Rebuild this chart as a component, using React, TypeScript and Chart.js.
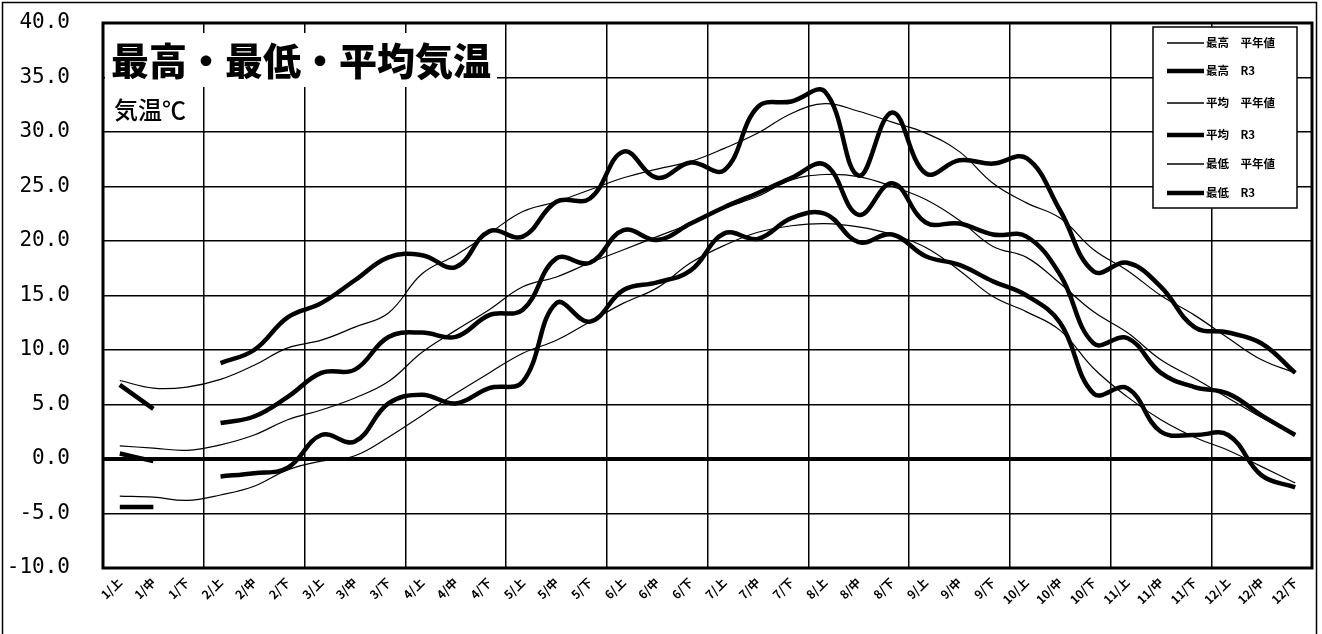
import React, { useEffect, useRef } from 'react';
import { Chart, registerables } from 'chart.js';

Chart.register(...registerables);

const categories = [
  '1/上', '1/中', '1/下', '2/上', '2/中', '2/下', '3/上', '3/中', '3/下',
  '4/上', '4/中', '4/下', '5/上', '5/中', '5/下', '6/上', '6/中', '6/下',
  '7/上', '7/中', '7/下', '8/上', '8/中', '8/下', '9/上', '9/中', '9/下',
  '10/上', '10/中', '10/下', '11/上', '11/中', '11/下', '12/上', '12/中', '12/下',
];

const yTicks = [-10, -5, 0, 5, 10, 15, 20, 25, 30, 35, 40];

const maxNormal = [7.2, 6.5, 6.6, 7.3, 8.6, 10.2, 10.9, 12.1, 13.4, 17.0, 18.7, 20.7, 22.7, 23.6, 24.7, 25.8, 26.6, 27.3, 28.5, 29.9, 31.7, 32.6, 31.9, 30.9, 29.9, 28.2, 25.3, 23.5, 22.1, 19.2, 17.3, 15.0, 13.2, 11.1, 9.1, 7.9];
const maxR3 = [6.8, 4.6, null, 8.8, 10.0, 13.0, 14.3, 16.4, 18.5, 18.7, 17.6, 20.9, 20.4, 23.6, 23.9, 28.2, 25.8, 27.2, 26.5, 32.3, 32.8, 33.7, 26.0, 31.8, 26.2, 27.4, 27.1, 27.6, 22.8, 17.2, 18.0, 15.8, 12.1, 11.6, 10.6, 7.9];
const avgNormal = [1.2, 1.0, 0.8, 1.3, 2.2, 3.6, 4.5, 5.6, 7.1, 9.8, 11.8, 13.7, 15.8, 16.7, 18.0, 19.2, 20.4, 21.6, 23.0, 24.1, 25.6, 26.1, 25.9, 25.0, 23.8, 21.9, 19.5, 18.5, 16.1, 13.5, 11.6, 9.1, 7.4, 5.6, 3.8, 2.2];
const avgR3 = [0.5, -0.2, null, 3.3, 3.9, 5.7, 7.9, 8.2, 11.2, 11.6, 11.2, 13.2, 13.7, 18.4, 18.0, 21.0, 20.1, 21.6, 23.1, 24.4, 25.8, 27.0, 22.4, 25.3, 21.7, 21.6, 20.6, 20.4, 16.9, 10.6, 11.1, 7.9, 6.6, 6.0, 4.0, 2.2];
const minNormal = [-3.4, -3.5, -3.8, -3.3, -2.5, -1.0, -0.2, 0.3, 2.0, 4.0, 6.0, 7.9, 9.7, 10.9, 12.6, 14.3, 15.7, 18.0, 19.6, 20.8, 21.4, 21.6, 21.3, 20.6, 19.4, 17.3, 14.9, 13.5, 11.8, 8.3, 5.7, 3.6, 2.0, 0.8, -0.7, -2.2];
const minR3 = [-4.4, -4.4, null, -1.6, -1.3, -0.8, 2.2, 1.6, 5.1, 5.9, 5.1, 6.5, 7.1, 14.3, 12.6, 15.5, 16.2, 17.3, 20.7, 20.2, 22.1, 22.5, 19.9, 20.6, 18.6, 17.8, 16.3, 15.0, 12.5, 6.0, 6.5, 2.5, 2.2, 2.2, -1.5, -2.6];

const seriesLabels = ['最高　平年値', '最高　R3', '平均　平年値', '平均　R3', '最低　平年値', '最低　R3'];
const titleText = '最高・最低・平均気温';
const unitText = '気温℃';

const JP = '"Noto Sans CJK JP", "Noto Sans", sans-serif';

const decorPlugin = {
  id: 'decor',
  beforeDraw(chart: any) {
    const { ctx, width, height } = chart;
    ctx.save();
    ctx.fillStyle = '#fff';
    ctx.fillRect(0, 0, width, height);
    ctx.strokeStyle = '#000';
    ctx.lineWidth = 1.5;
    ctx.beginPath();
    ctx.moveTo(2.5, height);
    ctx.lineTo(2.5, 2.5);
    ctx.lineTo(width - 5.5, 2.5);
    ctx.lineTo(width - 5.5, height);
    ctx.stroke();
    ctx.restore();
  },
  beforeDatasetsDraw(chart: any) {
    const { ctx, chartArea } = chart;
    const { left, top, right, bottom } = chartArea;
    ctx.save();
    // title box
    ctx.fillStyle = '#fff';
    ctx.fillRect(left + 2, top + 10, 392, 54);
    ctx.fillStyle = '#000';
    ctx.font = `900 38px ${JP}`;
    ctx.textBaseline = 'middle';
    ctx.textAlign = 'left';
    ctx.fillText(titleText, left + 8, top + 38);
    ctx.font = `500 24px ${JP}`;
    ctx.fillText(unitText, left + 11, top + 87);
    // plot frame
    ctx.strokeStyle = '#000';
    ctx.lineWidth = 3;
    ctx.strokeRect(left, top, right - left, bottom - top);
    ctx.restore();
  },
  afterDraw(chart: any) {
    const { ctx, chartArea } = chart;
    const bx = chartArea.left + 1050;
    const by = chartArea.top + 4;
    const bw = 144;
    const bh = 181;
    ctx.save();
    ctx.fillStyle = '#fff';
    ctx.fillRect(bx, by, bw, bh);
    ctx.strokeStyle = '#000';
    ctx.lineWidth = 1.5;
    ctx.strokeRect(bx, by, bw, bh);
    const ys = [16, 44, 76, 108, 137, 166];
    chart.data.datasets.forEach((ds: any, i: number) => {
      const y = by + ys[i];
      ctx.strokeStyle = '#000';
      ctx.lineWidth = ds.borderWidth > 2 ? 4.5 : 1.5;
      ctx.beginPath();
      ctx.moveTo(bx + 14, y);
      ctx.lineTo(bx + 51, y);
      ctx.stroke();
      ctx.fillStyle = '#000';
      ctx.font = `bold 11.5px ${JP}`;
      ctx.textBaseline = 'middle';
      ctx.textAlign = 'left';
      ctx.fillText(ds.label, bx + 53, y);
    });
    ctx.restore();
  },
};

export default function App() {
  const ref = useRef<HTMLCanvasElement | null>(null);

  useEffect(() => {
    if (!ref.current) return;
    const mk = (label: string, data: (number | null)[], thick: boolean) => ({
      label,
      data,
      borderColor: '#000',
      backgroundColor: '#000',
      borderWidth: thick ? 4.5 : 1.2,
      pointRadius: 0,
      pointHoverRadius: 0,
      tension: 0.4,
      spanGaps: false,
      fill: false,
    });
    const chart = new Chart(ref.current, {
      type: 'line',
      data: {
        labels: categories,
        datasets: [
          mk(seriesLabels[0], maxNormal, false),
          mk(seriesLabels[1], maxR3, true),
          mk(seriesLabels[2], avgNormal, false),
          mk(seriesLabels[3], avgR3, true),
          mk(seriesLabels[4], minNormal, false),
          mk(seriesLabels[5], minR3, true),
        ],
      },
      options: {
        responsive: false,
        animation: false,
        layout: { padding: { left: 0, top: 23, right: 10, bottom: 0 } },
        plugins: {
          legend: { display: false },
          tooltip: { enabled: false },
          title: { display: false },
        },
        scales: {
          x: {
            type: 'category',
            offset: true,
            grid: {
              offset: true,
              drawTicks: false,
              color: (c: any) => (c.index % 3 === 0 ? '#000' : 'rgba(0,0,0,0)'),
              lineWidth: 1.5,
            },
            border: { display: false },
            ticks: {
              autoSkip: false,
              maxRotation: 45,
              minRotation: 45,
              padding: 7,
              color: '#000',
              font: { family: JP, size: 12, weight: 'bold' },
            },
            afterFit: (s: any) => { s.height = 66; s.paddingLeft = 0; s.paddingRight = 0; },
          },
          y: {
            min: -10,
            max: 40,
            afterBuildTicks: (s: any) => { s.ticks = yTicks.map((v) => ({ value: v })); },
            grid: {
              drawTicks: false,
              color: '#000',
              lineWidth: (c: any) => (c.tick && c.tick.value === 0 ? 4 : 1.5),
            },
            border: { display: false },
            ticks: {
              padding: 33,
              color: '#000',
              font: { family: '"DejaVu Sans Mono", monospace', size: 21 },
              callback: (v: any) => Number(v).toFixed(1),
            },
            afterFit: (s: any) => { s.width = 103; s.paddingTop = 0; s.paddingBottom = 0; },
          },
        },
      },
      plugins: [decorPlugin],
    } as any);
    return () => chart.destroy();
  }, []);

  return (
    <div style={{ position: 'fixed', left: 0, top: 0, width: 1322, height: 634, background: '#fff' }}>
      <canvas ref={ref} width={1322} height={634} style={{ display: 'block' }} />
    </div>
  );
}
